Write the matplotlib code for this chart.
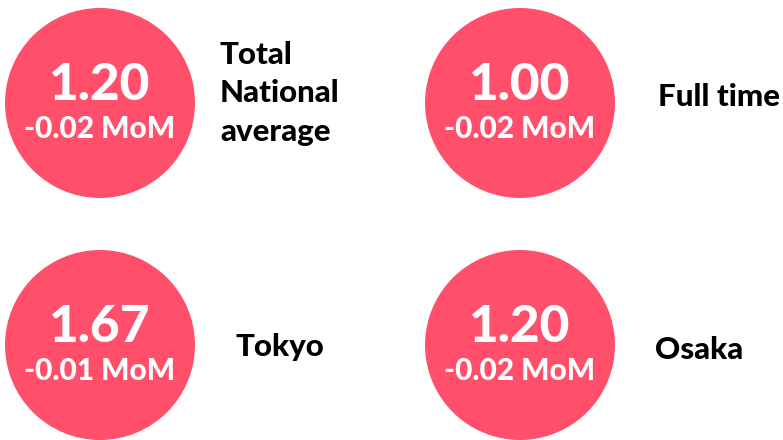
import matplotlib
matplotlib.use("Agg")
import matplotlib.pyplot as plt
from matplotlib.patches import Circle

# Values shown in each bubble
labels = ["Total\nNational\naverage", "Full time", "Tokyo", "Osaka"]
values = [1.20, 1.00, 1.67, 1.20]
mom_changes = [-0.02, -0.02, -0.01, -0.02]

# layout (pixel units, y grows downward)
x0, dx = 100, 420
y0, dy = 103, 242
radius = 95
label_offsets = [(120, -39), (138, 3), (135, 11), (135, 14)]
line_gap = 38.5

circle_color = "#ff4f6a"
font = "Lato"

fig = plt.figure(figsize=(7.83, 4.40), dpi=100)
ax = fig.add_axes([0, 0, 1, 1])
ax.set_xlim(0, 783)
ax.set_ylim(440, 0)
ax.axis("off")

for i, (lab, val, chg) in enumerate(zip(labels, values, mom_changes)):
    cx = x0 + (i % 2) * dx
    cy = y0 + (i // 2) * dy
    ax.add_patch(Circle((cx, cy), radius, color=circle_color, lw=0))
    ax.text(cx, cy - 3, f"{val:.2f}", ha="center", va="baseline",
            fontsize=37, fontweight="black", color="white", family=font)
    ax.text(cx, cy + 35, f"{chg:.2f} MoM", ha="center", va="baseline",
            fontsize=21.5, fontweight="black", color="white", family=font)
    ox, oy = label_offsets[i]
    for k, line in enumerate(lab.split("\n")):
        ax.text(cx + ox, cy + oy + k * line_gap, line, ha="left", va="baseline",
                fontsize=22.5, fontweight="black", color="black", family=font)

fig.savefig("out.png", dpi=100)
